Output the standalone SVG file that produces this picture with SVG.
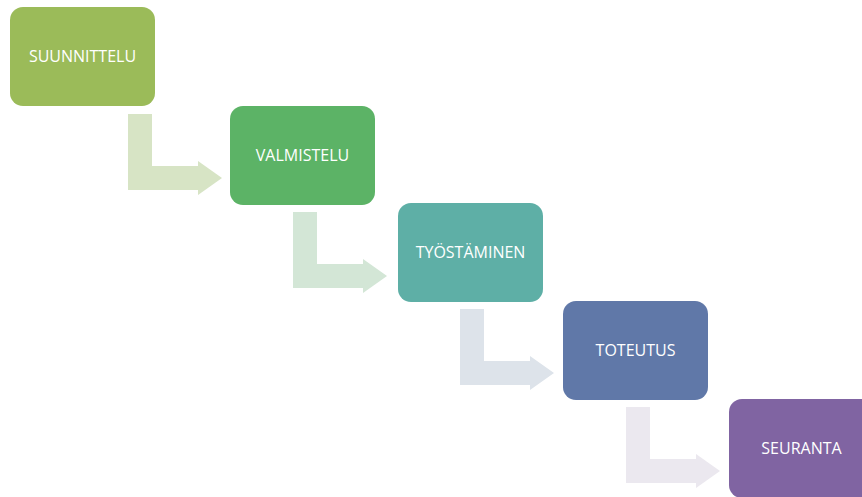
<svg xmlns="http://www.w3.org/2000/svg" width="862" height="497" viewBox="0 0 862 497">
<style>
.lbl{font-family:"Open Sans","Liberation Sans",sans-serif;font-size:16px;fill:#ffffff;text-anchor:middle;dominant-baseline:central}
</style>
<defs>
<path id="arr" d="M0 0 H24 V52 H70 V47 L94 64 L70 81 V76 H0 Z"/>
</defs>
<rect width="862" height="497" fill="#ffffff"/>
<g id="connectors">
<use href="#arr" x="128" y="114" fill="#D7E4C5"/>
<use href="#arr" x="293" y="212" fill="#D3E6D6"/>
<use href="#arr" x="460" y="309" fill="#DDE3EA"/>
<use href="#arr" x="626" y="407" fill="#EBE8EF"/>
</g>
<g id="n1"><rect x="10" y="7" width="145" height="99" rx="13" fill="#9BBB59"/><text class="lbl" x="82.5" y="56">SUUNNITTELU</text></g>
<g id="n2"><rect x="230" y="106" width="145" height="99" rx="13" fill="#5CB366"/><text class="lbl" x="302.5" y="155">VALMISTELU</text></g>
<g id="n3"><rect x="398" y="203" width="145" height="99" rx="13" fill="#5EAFA6"/><text class="lbl" x="470.5" y="252">TYÖSTÄMINEN</text></g>
<g id="n4"><rect x="563" y="301" width="145" height="99" rx="13" fill="#6078A8"/><text class="lbl" x="635.5" y="350">TOTEUTUS</text></g>
<g id="n5"><rect x="729" y="399" width="145" height="99" rx="13" fill="#8064A2"/><text class="lbl" x="801.5" y="448">SEURANTA</text></g>
</svg>
